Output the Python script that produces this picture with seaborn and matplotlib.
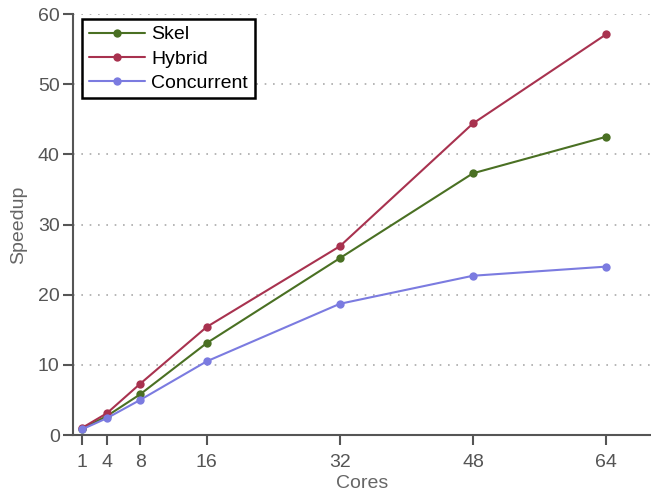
import matplotlib
matplotlib.use("Agg")
import matplotlib.pyplot as plt
import pandas as pd
import seaborn as sns

cores = [1, 4, 8, 16, 32, 48, 64]
skel = [0.9, 2.7, 5.8, 13.1, 25.2, 37.3, 42.5]
hybrid = [1.0, 3.1, 7.3, 15.4, 26.9, 44.4, 57.1]
concurrent = [0.8, 2.4, 5.0, 10.5, 18.7, 22.7, 24.0]
series = ["Skel", "Hybrid", "Concurrent"]
colors = ["#4a7023", "#a8324f", "#7b7be0"]

df = pd.DataFrame({
    "Cores": cores * 3,
    "Speedup": skel + hybrid + concurrent,
    "series": [s for s in series for _ in cores],
})

sns.set_style("white")
plt.rcParams["font.family"] = ["Liberation Sans", "DejaVu Sans"]

fig = plt.figure(figsize=(6.51, 4.97), dpi=100)
ax = fig.add_axes([0.112, 0.1247, 0.888, 0.8471])

sns.lineplot(data=df, x="Cores", y="Speedup", hue="series", hue_order=series,
             palette=colors, marker="o", markersize=6, markeredgewidth=0,
             linewidth=1.5, ax=ax)

ax.set_xlim(-0.08, 69.4)
ax.set_ylim(0, 60)
ax.set_xticks(cores)
ax.set_yticks(range(0, 61, 10))
ax.yaxis.grid(True, linestyle=(0, (1, 4)), color="#aaaaaa", linewidth=1.2)
ax.set_axisbelow(True)

for side in ["top", "right"]:
    ax.spines[side].set_visible(False)
for side in ["left", "bottom"]:
    ax.spines[side].set_color("#555555")
    ax.spines[side].set_linewidth(1.5)

ax.tick_params(axis="both", direction="out", length=7.5, width=1.5, color="#555555",
               labelcolor="#555555", labelsize=14, bottom=True, left=True)
ax.tick_params(axis="x", pad=6)
ax.tick_params(axis="y", pad=2)
ax.set_xlabel("Cores", color="#666666", fontsize=14, labelpad=3)
ax.set_ylabel("Speedup", color="#666666", fontsize=14, labelpad=8)

leg = ax.legend(loc="upper left", bbox_to_anchor=(0.016, 0.988), fontsize=14,
                frameon=True, fancybox=False, handlelength=2.9, borderpad=0.35,
                labelspacing=0.33, handletextpad=0.3, borderaxespad=0,
                labelcolor="black")
leg.get_frame().set_edgecolor("black")
leg.get_frame().set_linewidth(1.8)
leg.get_frame().set_alpha(1)

fig.savefig("out.png", dpi=100)
